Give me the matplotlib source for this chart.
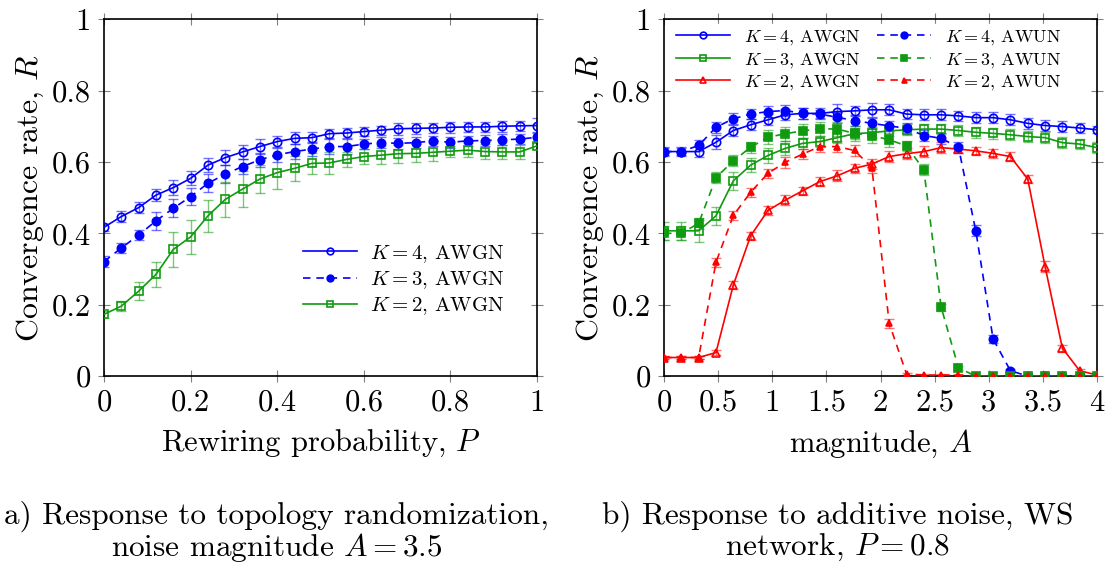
import matplotlib
matplotlib.use("Agg")
import matplotlib.pyplot as plt
import numpy as np

plt.rcParams['font.family'] = 'cmr10'
plt.rcParams['mathtext.fontset'] = 'cm'
plt.rcParams['axes.unicode_minus'] = False
plt.rcParams['axes.formatter.use_mathtext'] = True

# ---------------- data: panel a ----------------
p_vals = [0.0, 0.04, 0.08, 0.12, 0.16, 0.20, 0.24, 0.28, 0.32, 0.36, 0.40, 0.44, 0.48,
          0.52, 0.56, 0.60, 0.64, 0.68, 0.72, 0.76, 0.80, 0.84, 0.88, 0.92, 0.96, 1.00]
a_k4 = [0.417, 0.447, 0.472, 0.507, 0.528, 0.554, 0.591, 0.612, 0.628, 0.643, 0.657, 0.666, 0.668,
        0.679, 0.681, 0.685, 0.689, 0.693, 0.694, 0.695, 0.697, 0.698, 0.698, 0.700, 0.701, 0.702]
a_k4_err = [0.010, 0.015, 0.015, 0.017, 0.020, 0.020, 0.020, 0.020, 0.020, 0.020, 0.015, 0.017, 0.015,
            0.013, 0.013, 0.013, 0.013, 0.017, 0.015, 0.015, 0.015, 0.015, 0.015, 0.015, 0.015, 0.020]
a_k3 = [0.321, 0.359, 0.395, 0.435, 0.470, 0.503, 0.540, 0.566, 0.587, 0.606, 0.620, 0.629, 0.636,
        0.643, 0.643, 0.650, 0.654, 0.652, 0.654, 0.659, 0.655, 0.659, 0.660, 0.662, 0.664, 0.669]
a_k3_err = [0.015, 0.015, 0.015, 0.025, 0.025, 0.025, 0.025, 0.025, 0.020, 0.020, 0.020, 0.020, 0.020,
            0.020, 0.020, 0.015, 0.015, 0.015, 0.015, 0.015, 0.015, 0.015, 0.015, 0.015, 0.015, 0.015]
a_k2 = [0.173, 0.196, 0.238, 0.285, 0.355, 0.390, 0.449, 0.495, 0.524, 0.552, 0.570, 0.582, 0.596,
        0.597, 0.607, 0.615, 0.619, 0.623, 0.624, 0.627, 0.630, 0.633, 0.629, 0.628, 0.628, 0.645]
a_k2_err = [0.010, 0.015, 0.025, 0.035, 0.048, 0.048, 0.045, 0.050, 0.050, 0.040, 0.045, 0.035, 0.030,
            0.030, 0.020, 0.020, 0.025, 0.025, 0.025, 0.025, 0.015, 0.020, 0.020, 0.020, 0.020, 0.010]

# ---------------- data: panel b ----------------
a_vals = [0.0, 0.16, 0.32, 0.48, 0.64, 0.80, 0.96, 1.12, 1.28, 1.44, 1.60, 1.76, 1.92,
          2.08, 2.24, 2.40, 2.56, 2.72, 2.88, 3.04, 3.20, 3.36, 3.52, 3.68, 3.84, 4.00]
b_k4_gn = [0.629, 0.629, 0.629, 0.655, 0.688, 0.704, 0.718, 0.732, 0.736, 0.736, 0.741, 0.743, 0.746,
           0.746, 0.734, 0.732, 0.732, 0.729, 0.724, 0.724, 0.718, 0.708, 0.702, 0.699, 0.695, 0.690]
b_k4_un = [0.629, 0.629, 0.646, 0.697, 0.721, 0.734, 0.741, 0.744, 0.736, 0.734, 0.725, 0.716, 0.708,
           0.701, 0.694, 0.674, 0.666, 0.641, 0.407, 0.104, 0.015, 0.0, 0.0, 0.0, 0.0, 0.0]
b_k3_gn = [0.407, 0.407, 0.407, 0.449, 0.547, 0.591, 0.618, 0.638, 0.652, 0.657, 0.668, 0.679, 0.682,
           0.687, 0.690, 0.692, 0.692, 0.688, 0.683, 0.680, 0.676, 0.671, 0.668, 0.654, 0.650, 0.640]
b_k3_un = [0.400, 0.400, 0.428, 0.556, 0.603, 0.641, 0.669, 0.679, 0.687, 0.693, 0.692, 0.680, 0.674,
           0.662, 0.645, 0.578, 0.193, 0.023, 0.0, 0.0, 0.0, 0.0, 0.0, 0.0, 0.0, 0.0]
b_k2_gn = [0.052, 0.052, 0.052, 0.066, 0.255, 0.393, 0.464, 0.493, 0.519, 0.545, 0.561, 0.582, 0.594,
           0.615, 0.623, 0.629, 0.640, 0.636, 0.631, 0.624, 0.615, 0.552, 0.307, 0.078, 0.015, 0.003]
b_k2_un = [0.052, 0.052, 0.052, 0.319, 0.450, 0.515, 0.568, 0.599, 0.622, 0.643, 0.643, 0.632, 0.584,
           0.148, 0.006, 0.003, 0.003, 0.003, 0.0, 0.0, 0.0, 0.0, 0.0, 0.0, 0.0, 0.0]
b_k4_gn_err = [0.010, 0.010, 0.015, 0.020, 0.015, 0.015, 0.015, 0.015, 0.015, 0.015, 0.020, 0.015, 0.020,
               0.015, 0.015, 0.015, 0.015, 0.015, 0.015, 0.015, 0.015, 0.015, 0.015, 0.015, 0.015, 0.010]
b_k4_un_err = [0.012, 0.012, 0.015, 0.015, 0.015, 0.015, 0.015, 0.015, 0.015, 0.012, 0.015, 0.015, 0.015,
               0.015, 0.015, 0.015, 0.015, 0.015, 0.015, 0.010, 0.005, 0.0, 0.0, 0.0, 0.0, 0.0]
b_k3_gn_err = [0.025, 0.025, 0.030, 0.025, 0.025, 0.020, 0.020, 0.020, 0.015, 0.015, 0.015, 0.015, 0.015,
               0.015, 0.015, 0.015, 0.015, 0.015, 0.015, 0.015, 0.015, 0.015, 0.015, 0.015, 0.015, 0.015]
b_k3_un_err = [0.020, 0.020, 0.015, 0.015, 0.015, 0.015, 0.020, 0.020, 0.020, 0.020, 0.020, 0.020, 0.020,
               0.020, 0.015, 0.015, 0.010, 0.005, 0.0, 0.0, 0.0, 0.0, 0.0, 0.0, 0.0, 0.0]
b_k2_gn_err = [0.005, 0.005, 0.005, 0.008, 0.010, 0.012, 0.012, 0.015, 0.012, 0.012, 0.015, 0.012, 0.015,
               0.015, 0.015, 0.015, 0.015, 0.012, 0.012, 0.012, 0.012, 0.012, 0.015, 0.010, 0.005, 0.002]
b_k2_un_err = [0.005, 0.005, 0.005, 0.012, 0.012, 0.012, 0.012, 0.015, 0.015, 0.015, 0.015, 0.015, 0.015,
               0.012, 0.003, 0.002, 0.002, 0.002, 0.0, 0.0, 0.0, 0.0, 0.0, 0.0, 0.0, 0.0]

BLUE = '#0000ff'
GREEN = '#109a10'
RED = '#ff0000'
DASH = (0, (4.5, 3.5))
FS = 22

fig = plt.figure(figsize=(11.08, 5.63), dpi=100)
ax1 = fig.add_axes([0.0939, 0.332, 0.3908, 0.634])
ax2 = fig.add_axes([0.5993, 0.332, 0.3908, 0.634])


def series(ax, x, y, err, color, marker, ls, filled, label, ms=6):
    ax.errorbar(x, y, yerr=err, fmt='none', ecolor=color, alpha=0.55,
                elinewidth=1.0, capsize=3.5, capthick=1.0, zorder=2)
    h, = ax.plot(x, y, color=color, linestyle=ls, linewidth=1.2, marker=marker,
                 markersize=ms, markerfacecolor=(color if filled else 'none'),
                 markeredgecolor=color, markeredgewidth=1.2, label=label, zorder=3)
    return h


h1 = series(ax1, p_vals, a_k4, a_k4_err, BLUE, 'o', '-', False, r'$K{=}4$, AWGN')
h2 = series(ax1, p_vals, a_k3, a_k3_err, BLUE, 'o', DASH, True, r'$K{=}3$, AWGN')
h3 = series(ax1, p_vals, a_k2, a_k2_err, GREEN, 's', '-', False, r'$K{=}2$, AWGN')
leg1 = ax1.legend(handles=[h1, h2, h3], loc='upper left', bbox_to_anchor=(0.45, 0.385),
                  frameon=True, edgecolor='white', framealpha=1, fontsize=15,
                  handlelength=2.6, handletextpad=0.6, labelspacing=0.22,
                  borderaxespad=0, borderpad=0.2, fancybox=False, markerscale=0.8)

g1 = series(ax2, a_vals, b_k4_gn, b_k4_gn_err, BLUE, 'o', '-', False, r'$K{=}4$, AWGN')
g2 = series(ax2, a_vals, b_k3_gn, b_k3_gn_err, GREEN, 's', '-', False, r'$K{=}3$, AWGN')
g3 = series(ax2, a_vals, b_k2_gn, b_k2_gn_err, RED, '^', '-', False, r'$K{=}2$, AWGN', ms=5.5)
u1 = series(ax2, a_vals, b_k4_un, b_k4_un_err, BLUE, 'o', DASH, True, r'$K{=}4$, AWUN')
u2 = series(ax2, a_vals, b_k3_un, b_k3_un_err, GREEN, 's', DASH, True, r'$K{=}3$, AWUN')
u3 = series(ax2, a_vals, b_k2_un, b_k2_un_err, RED, '^', DASH, True, r'$K{=}2$, AWUN', ms=4.5)
leg2 = ax2.legend(handles=[g1, g2, g3, u1, u2, u3], ncol=2, loc='upper left',
                  bbox_to_anchor=(0.02, 0.985), frameon=True, edgecolor='white',
                  framealpha=1, fontsize=13, handlelength=3.0, handletextpad=0.75,
                  labelspacing=0.2, columnspacing=0.9, borderaxespad=0, borderpad=0.2,
                  fancybox=False, markerscale=0.8)

for ax in (ax1, ax2):
    ax.set_ylim(0, 1)
    ax.set_yticks([0, 0.2, 0.4, 0.6, 0.8, 1.0])
    ax.set_yticklabels(['0', '0.2', '0.4', '0.6', '0.8', '1'])
    ax.tick_params(direction='inout', length=9, width=0.8, color='#808080',
                   top=True, right=True, labelsize=FS, pad=5)
    for s in ax.spines.values():
        s.set_linewidth(1.2)
    ax.set_ylabel(r'Convergence rate, $R$', fontsize=FS + 1, labelpad=4)

ax1.set_xlim(0, 1)
ax1.set_xticks([0, 0.2, 0.4, 0.6, 0.8, 1.0])
ax1.set_xticklabels(['0', '0.2', '0.4', '0.6', '0.8', '1'])
ax1.set_xlabel(r'Rewiring probability, $P$', fontsize=FS, labelpad=8)

ax2.set_xlim(0, 4)
ax2.set_xticks([0, 0.5, 1, 1.5, 2, 2.5, 3, 3.5, 4])
ax2.set_xticklabels(['0', '0.5', '1', '1.5', '2', '2.5', '3', '3.5', '4'])
ax2.set_xlabel(r'magnitude, $A$', fontsize=FS, labelpad=8)

CFS = 22.5
fig.text(0.2496, 0.083, 'a) Response to topology randomization,', ha='center',
         va='center', fontsize=CFS)
fig.text(0.2496, 0.027, r'noise magnitude $A = 3.5$', ha='center', va='center', fontsize=CFS)
fig.text(0.756, 0.083, 'b) Response to additive noise, WS', ha='center',
         va='center', fontsize=CFS)
fig.text(0.756, 0.027, r'network, $P = 0.8$', ha='center', va='center', fontsize=CFS)

fig.savefig('out.png', dpi=100)
